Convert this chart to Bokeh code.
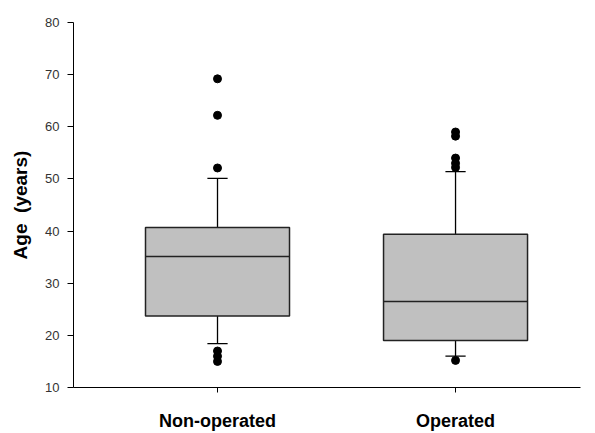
from bokeh.plotting import figure
from bokeh.models import FixedTicker, Range1d, ColumnDataSource
from bokeh.embed import file_html
from bokeh.resources import INLINE

groups = ["Non-operated", "Operated"]
xpos = [1, 2]
q1 = [23.7, 19.0]
median = [35.1, 26.5]
q3 = [40.7, 39.4]
lower = [18.4, 16.0]
upper = [50.1, 51.4]
out_group = [1, 1, 1, 1, 1, 1, 2, 2, 2, 2, 2, 2]
out_values = [69.2, 62.2, 52.1, 17.0, 16.0, 15.0, 59.0, 58.2, 54.0, 53.0, 52.2, 15.2]
y_ticks = [10, 20, 30, 40, 50, 60, 70, 80]

box_w = 0.605
cap_w = 0.085

p = figure(width=595, height=433, output_backend="svg", toolbar_location=None,
           x_range=Range1d(0.395, 2.525), y_range=Range1d(10, 80),
           min_border_left=73, min_border_right=15, min_border_top=22, min_border_bottom=45)
p.outline_line_color = None
p.grid.visible = False
p.background_fill_color = "white"

src = ColumnDataSource(dict(x=xpos, q1=q1, med=median, q3=q3, lo=lower, hi=upper,
                            xl=[v - box_w / 2 for v in xpos], xr=[v + box_w / 2 for v in xpos],
                            cl=[v - cap_w / 2 for v in xpos], cr=[v + cap_w / 2 for v in xpos]))

# whiskers
p.segment(x0="x", y0="q3", x1="x", y1="hi", source=src, line_color="black", line_width=1.3)
p.segment(x0="x", y0="q1", x1="x", y1="lo", source=src, line_color="black", line_width=1.3)
p.segment(x0="cl", y0="hi", x1="cr", y1="hi", source=src, line_color="black", line_width=1.3)
p.segment(x0="cl", y0="lo", x1="cr", y1="lo", source=src, line_color="black", line_width=1.3)
# boxes
p.vbar(x="x", width=box_w, bottom="q1", top="q3", source=src,
       fill_color="#c0c0c0", line_color="#222222", line_width=1.5)
p.segment(x0="xl", y0="med", x1="xr", y1="med", source=src, line_color="#222222", line_width=1.5)
# outliers
p.scatter(out_group, out_values, size=8, color="black")

p.xaxis.ticker = FixedTicker(ticks=xpos)
p.xaxis.major_label_overrides = {xpos[i]: groups[i] for i in range(len(groups))}
p.xaxis.major_label_text_font = "Liberation Sans"
p.xaxis.major_label_text_font_style = "bold"
p.xaxis.major_label_text_font_size = "18px"
p.xaxis.major_label_text_color = "black"
p.xaxis.major_tick_out = 5
p.xaxis.major_tick_in = 0
p.xaxis.minor_tick_line_color = None
p.xaxis.major_label_standoff = 18

p.yaxis.ticker = FixedTicker(ticks=y_ticks)
p.yaxis.axis_label = "Age\u00a0\u00a0(years)"
p.yaxis.axis_label_text_font = "Liberation Sans"
p.yaxis.axis_label_text_font_style = "bold"
p.yaxis.axis_label_text_font_size = "19px"
p.yaxis.axis_label_text_color = "black"
p.yaxis.axis_label_standoff = 11
p.yaxis.major_label_text_font = "Liberation Sans"
p.yaxis.major_label_text_font_size = "13px"
p.yaxis.major_label_text_color = "#333333"
p.yaxis.major_tick_out = 6
p.yaxis.major_tick_in = 0
p.yaxis.minor_tick_line_color = None
p.yaxis.major_label_standoff = 8

p.axis.axis_line_color = "black"
p.axis.major_tick_line_color = "black"

open("out.html", "w").write(file_html(p, INLINE))
